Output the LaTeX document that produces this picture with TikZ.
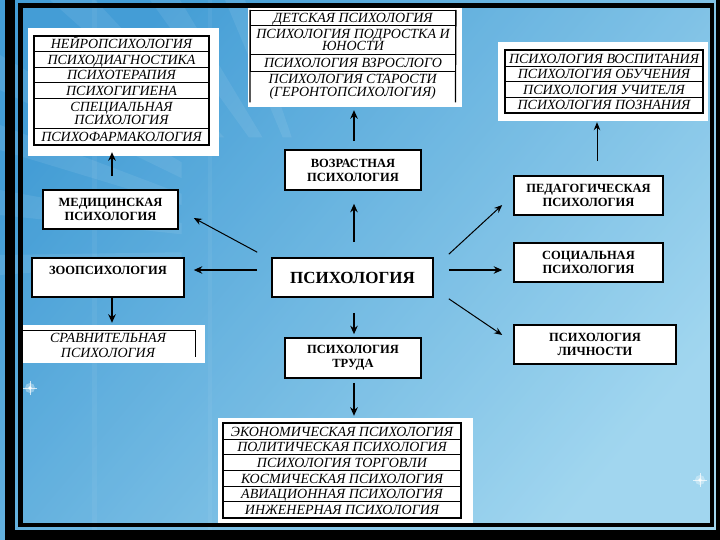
\documentclass[tikz,border=0pt]{standalone}
\usepackage{fontspec}
\setmainfont{Liberation Serif}
\usetikzlibrary{calc,arrows.meta}
\definecolor{bgdark}{HTML}{3A96D2}
\definecolor{bgmid}{HTML}{6FBDE6}
\definecolor{bglight}{HTML}{AEDDF2}
\begin{document}
\begin{tikzpicture}[x=1pt,y=-1pt,
  box/.style={draw=black,line width=1.6pt,fill=white,inner sep=0pt,align=center,
    font=\bfseries\fontsize{12.5}{14}\selectfont},
  grp/.style={fill=white,inner sep=0pt},
  row/.style={draw=black,line width=1pt,fill=white,inner sep=0pt,align=center,anchor=north west,
    font=\itshape\fontsize{14}{12.5}\selectfont,text height=9.5pt,text depth=0pt},
  rowtwo/.style={row,text height=,text depth=},
  rowtext/.style={inner sep=0pt,align=center,anchor=north west,
    font=\itshape\fontsize{14}{12.5}\selectfont},
  arr/.style={line width=1.6pt,-{Stealth[length=8.5pt,width=7.5pt]}},
  tarr/.style={line width=1pt,-{Stealth[length=8pt,width=6.5pt]}},
  ray/.style={fill=white,opacity=0.08},
  frameline/.style={draw=black,line width=4.5pt}
]
\useasboundingbox (0,0) rectangle (720,540);
% background
\shade[top color=bgdark, bottom color=bglight, shading angle=50] (0,0) rectangle (720,540);
\fill[bgmid,opacity=0.2] (0,0) rectangle (720,540);
% faint rays (start away from the centre)
\coordinate (O) at (330,250);
\foreach \ax/\ay/\bx/\by in {0/55/0/90, 0/125/0/150, 0/190/0/215, 0/255/0/275, 50/0/95/0, 150/0/180/0, 225/0/245/0}{
  \fill[ray] ($(O)!0.45!(\ax,\ay)$) -- (\ax,\ay) -- (\bx,\by) -- ($(O)!0.45!(\bx,\by)$) -- cycle;
}
\fill[white,opacity=0.05] (92,0) rectangle (97,540);
\fill[white,opacity=0.05] (208,0) rectangle (212,540);
% sparkles
\foreach \sx/\sy in {30/388, 700/480}{
  \fill[white,opacity=0.35] (\sx,\sy) circle (5);
  \fill[white,opacity=0.9] (\sx,\sy) circle (1.8);
  \draw[white,opacity=0.7,line width=0.6pt] (\sx-7,\sy) -- (\sx+7,\sy) (\sx,\sy-7) -- (\sx,\sy+7);
}

% ---------- groups (white backgrounds) ----------
\node[grp,minimum width=191,minimum height=128] (neuro) at (123.5,92) {};
\node[grp,minimum width=214,minimum height=101] (topc) at (355,56.5) {};
\node[grp,minimum width=210,minimum height=79] (topr) at (603,81.5) {};
\node[grp,minimum width=255,minimum height=105] (bot) at (345.5,470.5) {};
\node[grp,minimum width=183,minimum height=38] (comp) at (113.5,344) {};

% neuro table
\node[row,minimum width=174,minimum height=15] (n1) at (34,36) {НЕЙРОПСИХОЛОГИЯ};
\node[row,minimum width=174,minimum height=16] (n2) at (34,51) {ПСИХОДИАГНОСТИКА};
\node[row,minimum width=174,minimum height=15] (n3) at (34,67) {ПСИХОТЕРАПИЯ};
\node[row,minimum width=174,minimum height=16] (n4) at (34,82) {ПСИХОГИГИЕНА};
\node[rowtwo,minimum width=174,minimum height=30] (n5) at (34,98) {СПЕЦИАЛЬНАЯ\\ПСИХОЛОГИЯ};
\node[row,minimum width=174,minimum height=16] (n6) at (34,128) {ПСИХОФАРМАКОЛОГИЯ};
\draw[line width=1.5pt] (n1.north west) rectangle (n6.south east);

% age table
\node[row,minimum width=205,minimum height=15] (t1) at (250,10) {ДЕТСКАЯ ПСИХОЛОГИЯ};
\node[rowtwo,minimum width=205,minimum height=29] (t2) at (250,25) {ПСИХОЛОГИЯ ПОДРОСТКА И\\ЮНОСТИ};
\node[row,minimum width=205,minimum height=17] (t3) at (250,54) {ПСИХОЛОГИЯ ВЗРОСЛОГО};
\node[rowtext,minimum width=205,minimum height=31] (t4) at (250,71) {ПСИХОЛОГИЯ СТАРОСТИ\\(ГЕРОНТОПСИХОЛОГИЯ)};
\draw[line width=1.2pt] (t1.north west) -- (t4.south west) (t1.north east) -- (t4.south east);

% pedagogical table
\node[row,minimum width=197,minimum height=16] (p1) at (505,50) {ПСИХОЛОГИЯ ВОСПИТАНИЯ};
\node[row,minimum width=197,minimum height=15] (p2) at (505,66) {ПСИХОЛОГИЯ ОБУЧЕНИЯ};
\node[row,minimum width=197,minimum height=16] (p3) at (505,81) {ПСИХОЛОГИЯ УЧИТЕЛЯ};
\node[row,minimum width=197,minimum height=15] (p4) at (505,97) {ПСИХОЛОГИЯ ПОЗНАНИЯ};
\draw[line width=1.5pt] (p1.north west) rectangle (p4.south east);

% labour table
\node[row,minimum width=237,minimum height=15.67] (b1) at (223,423) {ЭКОНОМИЧЕСКАЯ ПСИХОЛОГИЯ};
\node[row,minimum width=237,minimum height=15.67] (b2) at (223,438.67) {ПОЛИТИЧЕСКАЯ ПСИХОЛОГИЯ};
\node[row,minimum width=237,minimum height=15.67] (b3) at (223,454.33) {ПСИХОЛОГИЯ ТОРГОВЛИ};
\node[row,minimum width=237,minimum height=15.67] (b4) at (223,470) {КОСМИЧЕСКАЯ ПСИХОЛОГИЯ};
\node[row,minimum width=237,minimum height=15.67] (b5) at (223,485.67) {АВИАЦИОННАЯ ПСИХОЛОГИЯ};
\node[row,minimum width=237,minimum height=15.67] (b6) at (223,501.33) {ИНЖЕНЕРНАЯ ПСИХОЛОГИЯ};
\draw[line width=1.5pt] (b1.north west) rectangle (b6.south east);

% comparative
\node[rowtext,font=\itshape\fontsize{14}{15}\selectfont,anchor=center] (compt) at (108,345) {СРАВНИТЕЛЬНАЯ\\ПСИХОЛОГИЯ};
\draw[line width=1.2pt] ($(comp.north west)+(1,6)$) -- ($(comp.north east)+(-10,6)$) -- ($(comp.south east)+(-10,-6)$);

% ---------- main boxes ----------
\node[box,minimum width=135,minimum height=39] (med) at (110.5,209.5) {МЕДИЦИНСКАЯ\\ПСИХОЛОГИЯ};
\node[box,minimum width=152,minimum height=39] (zoo) at (108,277.5) {ЗООПСИХОЛОГИЯ\\\mbox{}};
\node[box,minimum width=136,minimum height=40] (age) at (353,170) {ВОЗРАСТНАЯ\\ПСИХОЛОГИЯ};
\node[box,minimum width=161,minimum height=39,font=\bfseries\fontsize{17}{20}\selectfont] (psych) at (352.5,277.5) {ПСИХОЛОГИЯ};
\node[box,minimum width=136,minimum height=40] (labor) at (353,358) {ПСИХОЛОГИЯ\\ТРУДА};
\node[box,minimum width=149,minimum height=39] (pedag) at (588.5,195.5) {ПЕДАГОГИЧЕСКАЯ\\ПСИХОЛОГИЯ};
\node[box,minimum width=149,minimum height=39] (social) at (588.5,262.5) {СОЦИАЛЬНАЯ\\ПСИХОЛОГИЯ};
\node[box,minimum width=162,minimum height=39] (pers) at (595,344.5) {ПСИХОЛОГИЯ\\ЛИЧНОСТИ};

% ---------- arrows ----------
\draw[arr] ($(med.north)+(1.5,-13)$) -- ($(med.north |- neuro.south)+(1.5,-4)$);
\draw[arr] ($(age.north)+(1,-8)$) -- ($(age.north |- topc.south)+(1,3)$);
\draw[arr] ($(psych.north)+(1.5,-15)$) -- ($(age.south)+(1,13)$);
\draw[arr] ($(psych.south)+(1.5,15)$) -- ($(labor.north)+(1,-3)$);
\draw[arr] ($(labor.south)+(1,4)$) -- ($(labor.south |- bot.north)+(1,-2)$);
\draw[tarr] ($(psych.north west)+(-14,-5)$) -- ($(med.east)+(15,8.5)$);
\draw[arr] ($(psych.west)+(-14,-7.5)$) -- ($(zoo.east)+(9,-7.5)$);
\draw[arr] ($(zoo.south)+(4,0)$) -- ($(zoo.south |- comp.north)+(4,-2)$);
\draw[tarr] ($(psych.north east)+(15,-3)$) -- ($(pedag.west)+(-11,9.5)$);
\draw[arr] ($(psych.east)+(15,-7.5)$) -- ($(social.west)+(-11,7.5)$);
\draw[tarr] ($(psych.south east)+(15,1)$) -- ($(pers.west)+(-11,-9.5)$);
\draw[tarr] ($(pedag.north)+(8.5,-14)$) -- ($(pedag.north |- topr.south)+(8.5,1)$);

% ---------- frame ----------
\fill[black] (5,0) rectangle (15,540);
\fill[black] (5,530) rectangle (720,540);
\fill[black] (716,0) rectangle (720,540);
\draw[frameline] (20.5,5.5) rectangle (712,525);
\end{tikzpicture}
\end{document}
